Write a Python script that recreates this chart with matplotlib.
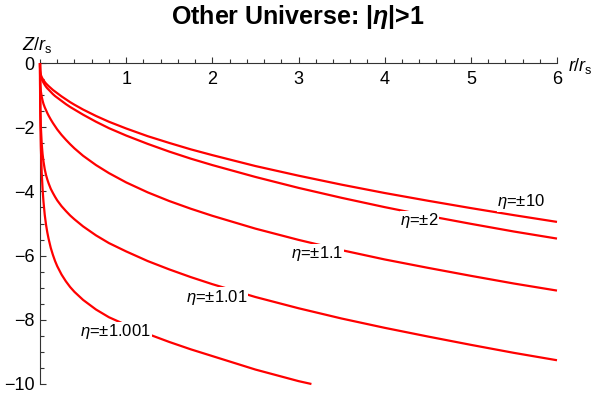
import numpy as np
import matplotlib.pyplot as plt
from matplotlib.ticker import MultipleLocator

plt.rcParams['font.family'] = ['Liberation Sans', 'DejaVu Sans']
plt.rcParams['mathtext.fontset'] = 'custom'
plt.rcParams['mathtext.rm'] = 'Liberation Sans'
plt.rcParams['mathtext.it'] = 'Liberation Sans:italic'
plt.rcParams['mathtext.bf'] = 'Liberation Sans:bold'
plt.rcParams['mathtext.bfit'] = 'Liberation Sans:bold:italic'

# r/r_s sample points
r_vals = [0, 0.0005, 0.002, 0.005, 0.01, 0.02, 0.03, 0.04, 0.055, 0.07, 0.085, 0.1, 0.125, 0.15, 0.175,
          0.2, 0.25, 0.3, 0.35, 0.4, 0.5, 0.65, 0.8, 1.0, 1.25, 1.5, 1.75, 2.0, 2.5, 3.0, 3.5, 4.0,
          4.5, 5.0, 5.5, 6.0]

# Z/r_s for each eta
z_eta10 = [0, -0.12, -0.22, -0.30, -0.37, -0.44, -0.49, -0.53, -0.59, -0.64, -0.68, -0.72, -0.78, -0.84, -0.89,
           -0.94, -1.04, -1.13, -1.22, -1.30, -1.45, -1.65, -1.83, -2.04, -2.28, -2.49, -2.69, -2.87, -3.21, -3.51,
           -3.79, -4.05, -4.29, -4.52, -4.74, -4.95]
z_eta2 = [0, -0.13, -0.24, -0.33, -0.41, -0.50, -0.56, -0.61, -0.68, -0.74, -0.79, -0.83, -0.90, -0.97, -1.03,
          -1.08, -1.18, -1.28, -1.37, -1.45, -1.61, -1.83, -2.03, -2.26, -2.52, -2.76, -2.98, -3.18, -3.55, -3.89,
          -4.20, -4.49, -4.76, -5.01, -5.25, -5.47]
z_eta11 = [0, -0.28, -0.50, -0.70, -0.88, -1.05, -1.17, -1.27, -1.38, -1.47, -1.56, -1.64, -1.76, -1.87, -1.97,
           -2.07, -2.24, -2.39, -2.53, -2.66, -2.89, -3.18, -3.43, -3.72, -4.03, -4.30, -4.54, -4.76, -5.16, -5.51,
           -5.83, -6.12, -6.38, -6.63, -6.87, -7.09]
z_eta101 = [0, -0.53, -1.02, -1.51, -1.99, -2.52, -2.84, -3.06, -3.31, -3.49, -3.63, -3.75, -3.92, -4.05, -4.17,
            -4.28, -4.46, -4.61, -4.75, -4.87, -5.09, -5.37, -5.61, -5.87, -6.17, -6.43, -6.67, -6.89, -7.29, -7.64,
            -7.96, -8.25, -8.52, -8.78, -9.03, -9.26]
# eta=1.001 runs off the bottom of the plot near r=3.15
r_eta1001 = r_vals[:30] + [3.15]
z_eta1001 = [0, -0.65, -1.28, -1.96, -2.63, -3.43, -3.93, -4.31, -4.73, -5.04, -5.28, -5.48, -5.76, -5.98, -6.17,
             -6.33, -6.59, -6.80, -6.98, -7.13, -7.38, -7.68, -7.92, -8.16, -8.44, -8.69, -8.92, -9.13, -9.55, -9.91,
             -10.0]

curves = [(r_vals, z_eta10), (r_vals, z_eta2), (r_vals, z_eta11), (r_vals, z_eta101), (r_eta1001, z_eta1001)]

labels = [r'$\eta$=±10', r'$\eta$=±2', r'$\eta$=±1.1', r'$\eta$=±1.01', r'$\eta$=±1.001']
label_r = [5.58, 4.40, 3.22, 2.05, 0.88]
label_z = [-4.32, -4.92, -5.95, -7.29, -8.36]

fig = plt.figure(figsize=(5.98, 3.97), dpi=100)
ax = fig.add_axes([40 / 598, 1 - 384 / 397, 517 / 598, 321 / 397])

for r, z in curves:
    ax.plot(r, z, color='#ff0000', lw=1.6, clip_on=False, zorder=3, solid_capstyle='butt')

for txt, lr, lz in zip(labels, label_r, label_z):
    ax.text(lr, lz, txt, fontsize=12, ha='center', va='center', zorder=4,
            bbox=dict(facecolor='white', edgecolor='none', pad=0.3))

ax.set_xlim(0, 6)
ax.set_ylim(-10, 0)

axis_col = '#333333'
ax.spines['top'].set_visible(False)
ax.spines['right'].set_visible(False)
ax.spines['bottom'].set_position(('data', 0))
ax.spines['bottom'].set_color(axis_col)
ax.spines['left'].set_color(axis_col)
ax.spines['bottom'].set_zorder(2)
ax.spines['left'].set_zorder(2)

ax.set_xticks([1, 2, 3, 4, 5, 6])
ax.xaxis.set_minor_locator(MultipleLocator(0.2))
ax.set_yticks([0, -2, -4, -6, -8, -10])
ax.yaxis.set_minor_locator(MultipleLocator(0.5))

ax.tick_params(axis='both', which='both', direction='in', colors=axis_col, labelcolor='black', labelsize=13)
ax.tick_params(axis='both', which='major', length=4.5, width=0.8)
ax.tick_params(axis='both', which='minor', length=2.8, width=0.8)
ax.tick_params(axis='x', pad=6)
ax.tick_params(axis='y', pad=4)

fig.text(22 / 598, 1 - 50 / 397, r'$Z/r_{\mathrm{s}}$', fontsize=13, ha='left', va='baseline')
fig.text(568 / 598, 1 - 71 / 397, r'$r/r_{\mathrm{s}}$', fontsize=13, ha='left', va='baseline')
fig.text(298 / 598, 1 - 17 / 397, r'Other Universe: |$\mathbfit{\eta}$|>1', fontsize=18,
         fontweight='bold', ha='center', va='center')

fig.savefig('out.png', dpi=100)
